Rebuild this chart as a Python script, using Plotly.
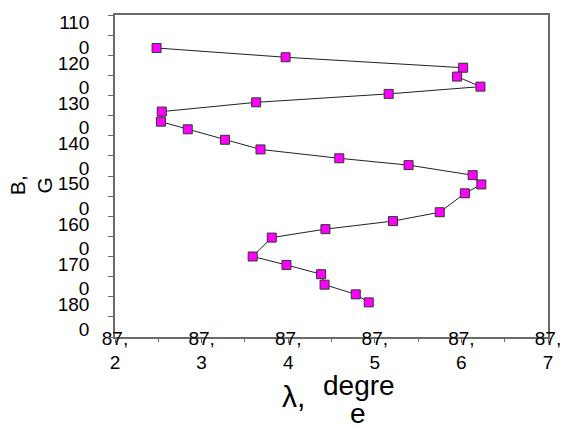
import plotly.graph_objects as go

# data (lambda in degrees, B in G)
lam = [87.248, 87.397, 87.602, 87.595, 87.622, 87.516, 87.363, 87.254, 87.253,
       87.284, 87.327, 87.368, 87.459, 87.539, 87.613, 87.623, 87.604, 87.575,
       87.521, 87.443, 87.381, 87.359, 87.398, 87.438, 87.442, 87.478, 87.493]
B = [1182, 1205, 1231, 1253, 1278, 1296, 1317, 1340, 1365,
     1384, 1410, 1434, 1456, 1473, 1498, 1521, 1543, 1590,
     1612, 1632, 1653, 1700, 1721, 1744, 1770, 1794, 1814]

x_tickvals = [87.2, 87.3, 87.4, 87.5, 87.6, 87.7]
x_ticktext = ["87,<br>2", "87,<br>3", "87,<br>4", "87,<br>5", "87,<br>6", "87,<br>7"]
y_tickvals = [1100, 1200, 1300, 1400, 1500, 1600, 1700, 1800]
y_ticktext = ["110<br>0", "120<br>0", "130<br>0", "140<br>0",
              "150<br>0", "160<br>0", "170<br>0", "180<br>0"]

FONT = "Liberation Sans, Arial, sans-serif"
AX = "#6a6a6a"

fig = go.Figure()
fig.add_trace(go.Scatter(
    x=lam, y=B, mode="lines+markers",
    line=dict(color="#222222", width=1),
    marker=dict(symbol="square", size=9, color="#ff00ff",
                line=dict(color="#333333", width=1)),
    showlegend=False,
))

fig.update_layout(
    width=573, height=428,
    margin=dict(l=115, r=14, t=15, b=91),
    paper_bgcolor="white", plot_bgcolor="white",
    font=dict(family=FONT, color="black"),
    xaxis=dict(range=[87.2, 87.7], tickvals=x_tickvals, ticktext=x_ticktext,
               showgrid=False, zeroline=False, showline=True, linecolor=AX,
               linewidth=1.5, mirror=True, ticks="outside", ticklen=4,
               tickcolor=AX, tickfont=dict(size=19, family=FONT),
               ticklabelstandoff=-21,
               minor=dict(dtick=0.05, tick0=87.2, ticks="outside", ticklen=3,
                          tickcolor=AX, showgrid=False)),
    yaxis=dict(range=[1900, 1100], tickvals=y_tickvals, ticktext=y_ticktext,
               showgrid=False, zeroline=False, showline=True, linecolor=AX,
               linewidth=1.5, mirror=True, ticks="outside", ticklen=5,
               tickcolor=AX, tickfont=dict(size=19, family=FONT),
               ticklabelshift=-20, ticklabelstandoff=15,
               minor=dict(dtick=50, tick0=1100, ticks="outside", ticklen=5,
                          tickcolor=AX, showgrid=False)),
)

def px_x(px):
    return (px - 115) / 444.0

def px_y(py):
    return (337 - py) / 322.0

fig.add_annotation(text="λ,", x=px_x(298), y=px_y(397), xref="paper", yref="paper",
                   showarrow=False, font=dict(size=30, family=FONT),
                   xanchor="center", yanchor="middle")
fig.add_annotation(text="degre", x=px_x(365), y=px_y(385), xref="paper", yref="paper",
                   showarrow=False, font=dict(size=28, family=FONT),
                   xanchor="center", yanchor="middle")
fig.add_annotation(text="e", x=px_x(364), y=px_y(413), xref="paper", yref="paper",
                   showarrow=False, font=dict(size=28, family=FONT),
                   xanchor="center", yanchor="middle")
fig.add_annotation(text="B,<br>G", x=px_x(29), y=px_y(185), xref="paper", yref="paper",
                   showarrow=False, textangle=-90, font=dict(size=21, family=FONT),
                   xanchor="center", yanchor="middle")

fig.write_html("out.html", config={"displayModeBar": False},
               post_script="document.body.style.margin='0';document.body.style.overflow='hidden';")
